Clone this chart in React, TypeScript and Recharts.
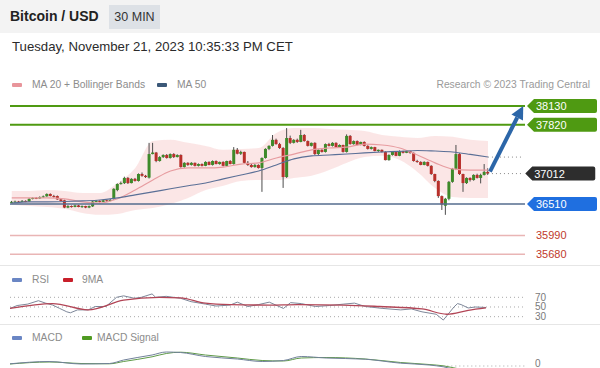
import React from 'react';
import { ComposedChart, Bar, Line, Area, XAxis, YAxis, ReferenceLine } from 'recharts';

const FONT = '"Liberation Sans", Arial, sans-serif';

// open, high, low, close (30 min candles)
const candles: [number, number, number, number][] = [
  [36530, 36560, 36520, 36545], [36545, 36565, 36530, 36550], [36550, 36560, 36530, 36545], [36545, 36575, 36540, 36560],
  [36560, 36570, 36540, 36550], [36550, 36605, 36545, 36595], [36595, 36620, 36585, 36610], [36610, 36625, 36590, 36600],
  [36600, 36635, 36595, 36625], [36625, 36650, 36610, 36635], [36635, 36685, 36630, 36675], [36675, 36685, 36635, 36640],
  [36640, 36660, 36615, 36625], [36640, 36650, 36580, 36585], [36585, 36600, 36555, 36560], [36570, 36580, 36440, 36450],
  [36450, 36490, 36440, 36475], [36475, 36485, 36450, 36460], [36460, 36500, 36455, 36485], [36485, 36495, 36455, 36460],
  [36460, 36485, 36445, 36475], [36475, 36480, 36440, 36450], [36450, 36485, 36440, 36475], [36470, 36560, 36460, 36550],
  [36550, 36575, 36540, 36560], [36560, 36570, 36535, 36545], [36545, 36580, 36540, 36570], [36570, 36580, 36550, 36560],
  [36560, 36590, 36555, 36575], [36590, 36770, 36580, 36760], [36740, 36850, 36720, 36840], [36840, 36880, 36830, 36855],
  [36855, 36960, 36840, 36940], [36940, 36955, 36840, 36855], [36855, 36935, 36850, 36925], [36925, 36940, 36880, 36890],
  [36890, 37015, 36880, 37005], [37005, 37030, 36960, 36975], [36975, 36990, 36940, 36955], [36945, 37520, 36930, 37335],
  [37335, 37520, 37330, 37360], [37360, 37370, 37200, 37220], [37220, 37300, 37210, 37285], [37285, 37330, 37270, 37320],
  [37320, 37335, 37260, 37270], [37270, 37345, 37260, 37335], [37335, 37350, 37270, 37285], [37285, 37330, 37280, 37320],
  [37320, 37330, 37110, 37120], [37120, 37200, 37110, 37190], [37190, 37200, 37140, 37155], [37155, 37200, 37145, 37190],
  [37190, 37195, 37130, 37140], [37140, 37180, 37130, 37170], [37170, 37180, 37130, 37140], [37140, 37215, 37135, 37205],
  [37205, 37215, 37150, 37155], [37155, 37230, 37145, 37220], [37220, 37230, 37165, 37170], [37170, 37210, 37160, 37205],
  [37205, 37215, 37130, 37140], [37140, 37225, 37130, 37220], [37220, 37235, 37165, 37170], [37170, 37450, 37160, 37405],
  [37405, 37435, 37330, 37340], [37340, 37390, 37320, 37370], [37370, 37375, 37180, 37190], [37190, 37220, 37140, 37155],
  [37155, 37170, 37110, 37120], [37120, 37170, 37110, 37155], [37155, 37165, 37095, 37105], [37105, 37280, 36710, 37270],
  [37270, 37430, 37260, 37420], [37420, 37480, 37400, 37470], [37470, 37650, 37460, 37570], [37570, 37590, 37490, 37500],
  [37500, 37520, 37420, 37435], [37435, 37450, 36775, 36955], [36955, 37765, 36940, 37600], [37600, 37640, 37500, 37520],
  [37520, 37580, 37510, 37570], [37570, 37590, 37520, 37535], [37535, 37735, 37530, 37650], [37650, 37665, 37540, 37550],
  [37550, 37560, 37460, 37470], [37470, 37525, 37460, 37520], [37520, 37530, 37320, 37335], [37335, 37410, 37320, 37405],
  [37405, 37415, 37360, 37370], [37370, 37510, 37360, 37500], [37500, 37520, 37460, 37470], [37470, 37530, 37460, 37520],
  [37520, 37530, 37440, 37450], [37450, 37495, 37440, 37485], [37485, 37490, 37360, 37370], [37370, 37660, 37360, 37635],
  [37635, 37650, 37490, 37500], [37500, 37560, 37490, 37550], [37550, 37560, 37480, 37485], [37485, 37540, 37480, 37535],
  [37535, 37545, 37460, 37470], [37470, 37480, 37410, 37420], [37420, 37460, 37410, 37450], [37450, 37455, 37380, 37385],
  [37385, 37410, 37370, 37405], [37405, 37410, 37360, 37370], [37370, 37380, 37230, 37235], [37235, 37330, 37225, 37320],
  [37320, 37380, 37310, 37370], [37370, 37375, 37300, 37305], [37305, 37395, 37300, 37385], [37385, 37390, 37345, 37355],
  [37355, 37395, 37350, 37385], [37385, 37390, 37340, 37355], [37355, 37360, 37210, 37220], [37220, 37240, 37190, 37205],
  [37205, 37215, 37150, 37155], [37155, 37215, 37150, 37205], [37205, 37210, 37130, 37140], [37140, 37150, 36990, 37005],
  [37005, 37010, 36870, 36890], [36890, 36900, 36610, 36640], [36640, 36650, 36410, 36500], [36480, 36610, 36330, 36595],
  [36595, 36890, 36570, 36875], [36875, 37105, 36860, 37090], [37090, 37485, 37070, 37335], [37335, 37350, 36990, 37005],
  [37005, 37010, 36710, 36855], [36855, 36950, 36840, 36940], [36940, 36950, 36880, 36905], [36905, 37000, 36895, 36990],
  [36990, 37010, 36930, 36940], [36940, 37010, 36850, 36990], [36990, 37170, 36980, 37040], [37040, 37100, 36990, 37012],
];

// room on the right of the last candle for the arrow and level tags
const SLOTS = 146;

// indicators read every 5 candles
const STEP = 5;
const bbUpper = [36725, 36725, 36740, 36725, 36690, 36690, 36855, 37105, 37550, 37570, 37520, 37470, 37405, 37420,
  37435, 37685, 37765, 37765, 37750, 37735, 37715, 37650, 37620, 37600, 37635, 37620, 37570, 37550];
const bbLower = [36495, 36475, 36460, 36430, 36360, 36330, 36345, 36410, 36445, 36510, 36610, 36740, 36810, 36890,
  36905, 36905, 36940, 36975, 37070, 37190, 37285, 37305, 37235, 37040, 36775, 36625, 36610, 36610];
const ma20 = [36610, 36610, 36610, 36595, 36545, 36525, 36595, 36740, 36905, 37055, 37105, 37105, 37120, 37170,
  37190, 37270, 37335, 37405, 37435, 37450, 37500, 37485, 37435, 37320, 37190, 37090, 37070, 37070];
const ma50 = [36525, 36545, 36545, 36550, 36560, 36575, 36610, 36660, 36710, 36760, 36810, 36855, 36925, 36990,
  37055, 37155, 37255, 37305, 37320, 37335, 37355, 37370, 37380, 37395, 37385, 37370, 37330, 37285];

const resistances = [38130, 37820];
const support = 36510;
const lowerLevels = [35990, 35680];
const lastPrice = 37012;
const target = 38130;

// RSI and its 9 period average: [candle index, value]
const rsiPoints: [number, number][] = [
  [0, 47], [2, 53], [5, 56], [8, 63], [10, 58], [12, 54], [14, 47], [16, 40], [17, 38], [19, 44], [22, 44], [24, 51],
  [27, 51], [30, 70], [32, 73], [35, 68], [37, 70], [40, 77], [41, 70], [44, 72], [48, 68], [51, 61], [55, 56], [58, 52],
  [62, 54], [64, 60], [67, 51], [70, 55], [73, 60], [77, 47], [79, 59], [82, 57], [86, 51], [90, 53], [94, 56], [97, 58],
  [100, 51], [105, 47], [110, 44], [113, 46], [116, 40], [120, 35], [122, 23], [123, 32], [125, 50], [126, 57], [127, 55],
  [129, 48], [131, 50], [134, 49],
];
const rsiMaPoints: [number, number][] = [
  [0, 47], [12, 57], [22, 44], [32, 64], [42, 70], [48, 69], [55, 58], [62, 55], [73, 54], [81, 55], [94, 54], [104, 51],
  [116, 46], [123, 35], [129, 43], [134, 48],
];
const rsiLevels = [70, 50, 30];

const macdPoints: [number, number][] = [
  [0, 22], [11, 45], [20, 20], [28, 25], [32, 60], [40, 110], [44, 140], [48, 135], [55, 95], [64, 70], [71, 45], [77, 55],
  [82, 95], [89, 80], [100, 68], [110, 28], [118, 10], [122, -8], [128, -60], [135, -75],
];
const signalPoints: [number, number][] = [
  [0, 20], [11, 40], [20, 25], [28, 22], [32, 45], [40, 92], [44, 125], [48, 138], [55, 110], [64, 80], [71, 55], [77, 50],
  [82, 80], [89, 85], [100, 70], [110, 35], [118, 15], [122, 2], [128, -40], [135, -60],
];

const at = (pts: [number, number][], i: number) => {
  const p = pts.find((q) => q[0] === i);
  return p ? p[1] : null;
};

const priceRows = Array.from({ length: SLOTS }, (_, i) => {
  const k = candles[i];
  const s = i % STEP === 0 && i / STEP < bbUpper.length ? i / STEP : -1;
  return {
    i,
    o: k ? k[0] : null,
    h: k ? k[1] : null,
    l: k ? k[2] : null,
    c: k ? k[3] : null,
    range: k ? [k[2], k[1]] : undefined,
    band: s >= 0 ? [bbLower[s], bbUpper[s]] : [null, null],
    ma20: s >= 0 ? ma20[s] : null,
    ma50: s >= 0 ? ma50[s] : null,
  };
});

const rsiRows = Array.from({ length: SLOTS }, (_, i) => ({ i, rsi: at(rsiPoints, i), ma: at(rsiMaPoints, i) }));
const macdRows = Array.from({ length: SLOTS }, (_, i) => ({ i, macd: at(macdPoints, i), signal: at(signalPoints, i) }));

const MARGIN = { top: 0, right: 75, bottom: 0, left: 10 };

const Candle = (props: any) => {
  const { x, y, width, height, payload } = props;
  if (!payload || payload.o == null) return null;
  const { o, h, l, c } = payload;
  const span = h - l || 1;
  const toY = (v: number) => y + ((h - v) / span) * height;
  const up = c >= o;
  const top = toY(Math.max(o, c));
  const bot = toY(Math.min(o, c));
  const cx = x + width / 2;
  return (
    <g>
      <line x1={cx} x2={cx} y1={y} y2={y + height} stroke="#4d4d4d" strokeWidth={1} />
      <rect x={x} y={top} width={width} height={Math.max(1, bot - top)} fill={up ? '#3e8a2a' : '#b8302b'} />
    </g>
  );
};

const tagPath = (t: number, y: number) => `M${t} ${y} L${t + 7} ${y - 7} H${t + 68} Q${t + 70} ${y - 7} ${t + 70} ${y - 5} V${y + 5} Q${t + 70} ${y + 7} ${t + 68} ${y + 7} H${t + 7} Z`;

const levelShape = (value: number, line: string, tag: string | null, text: string, width = 1.5, dash?: string) => (p: any) => {
  const t = p.x2 + 2;
  return (
    <g>
      <line x1={p.x1} y1={p.y1} x2={p.x2} y2={p.y2} stroke={line} strokeWidth={width} strokeDasharray={dash} />
      {tag && <path d={tagPath(t, p.y2)} fill={tag} />}
      <text x={t + 9} y={p.y2 + 4} fontSize={11} fontFamily={FONT} fill={text}>{value}</text>
    </g>
  );
};

const Arrow = (p: any) => {
  const { x1, y1, x2, y2 } = p;
  const a = Math.atan2(y2 - y1, x2 - x1);
  const len = 13;
  const half = 6.5;
  const bx = x2 - len * Math.cos(a);
  const by = y2 - len * Math.sin(a);
  const sx = Math.sin(a);
  const sy = Math.cos(a);
  return (
    <g>
      <line x1={x1 + 2} y1={y1 - 2} x2={bx} y2={by} stroke="#2c66a8" strokeWidth={4} />
      <path d={`M${x2} ${y2} L${bx + half * sx} ${by - half * sy} L${bx - half * sx} ${by + half * sy} Z`} fill="#2c66a8" />
    </g>
  );
};

const dotted = (p: any) => (
  <line x1={p.x1} y1={p.y1} x2={p.x2} y2={p.y2} stroke="#8a8a8a" strokeWidth={1} strokeDasharray="1 3" />
);

const sideLabel = (label: string, dy = 0) => (p: any) => (
  <g>
    <line x1={p.x1} y1={p.y1} x2={p.x2} y2={p.y2} stroke="#a8a8a8" strokeWidth={1} strokeDasharray="1 3" />
    <text x={p.x2 + 10} y={p.y2 + 3.5 + dy} fontSize={10} fontFamily={FONT} fill="#7a7a7a">{label}</text>
  </g>
);

const Swatch = ({ color, left, top }: { color: string; left: number; top: number }) => (
  <div style={{ position: 'absolute', left, top, width: 10, height: 4, borderRadius: 1, background: color }} />
);

const Txt = ({ left, top, right, children, size = 10.3, color = '#8c8c8c', style }: any) => (
  <div style={{ position: 'absolute', left, right, top, fontSize: size, lineHeight: '14px', color, whiteSpace: 'nowrap', ...style }}>{children}</div>
);

export default function App() {
  const lastI = candles.length - 1;
  const endI = SLOTS - 1;
  return (
    <div style={{ position: 'absolute', left: 0, top: 0, width: 600, height: 368, overflow: 'hidden', background: '#fff', fontFamily: FONT }}>
      <div style={{ position: 'absolute', left: 0, top: 0, width: 600, height: 33, background: '#f3f3f3' }} />
      <div style={{ position: 'absolute', left: 10, top: 8, fontSize: 14, lineHeight: '17px', fontWeight: 700, color: '#222' }}>Bitcoin / USD</div>
      <div style={{ position: 'absolute', left: 109, top: 5, width: 51, height: 24, background: '#dde1e6', fontSize: 12.5, lineHeight: '24px', textAlign: 'center', color: '#333' }}>30 MIN</div>
      <Txt left={12} top={39} size={13.2} color="#2b2b2b" style={{ lineHeight: '16px' }}>Tuesday, November 21, 2023 10:35:33 PM CET</Txt>

      <Swatch color="#e8959b" left={12} top={83} />
      <Txt left={32} top={78}>MA 20 + Bollinger Bands</Txt>
      <Swatch color="#3b5878" left={157} top={83} />
      <Txt left={177} top={78}>MA 50</Txt>
      <Txt right={10} top={78} color="#9a9a9a">Research © 2023 Trading Central</Txt>

      <div style={{ position: 'absolute', top: 96, left: 0 }}>
        <ComposedChart width={600} height={166} data={priceRows} margin={MARGIN}>
          <XAxis dataKey="i" type="category" hide />
          <YAxis type="number" domain={[35550, 38295]} hide allowDataOverflow />
          <Area dataKey="band" type="monotone" stroke="none" fill="#f8d2d2" fillOpacity={0.55} connectNulls isAnimationActive={false} />
          <Line dataKey="ma20" type="monotone" stroke="#e79ca0" strokeWidth={1.2} dot={false} connectNulls isAnimationActive={false} />
          <Line dataKey="ma50" type="monotone" stroke="#5a6f96" strokeWidth={1.1} dot={false} connectNulls isAnimationActive={false} />
          {resistances.map((v) => (
            <ReferenceLine key={v} y={v} shape={levelShape(v, '#4f9a12', '#4f9a12', '#fff', 2)} />
          ))}
          <ReferenceLine y={support} shape={levelShape(support, '#556d8e', '#1f6fe0', '#fff', 1.5)} />
          {lowerLevels.map((v) => (
            <ReferenceLine key={v} y={v} shape={levelShape(v, '#e9b5b5', null, '#c0392b', 1.5)} />
          ))}
          <Bar dataKey="range" barSize={3} shape={<Candle />} isAnimationActive={false} />
          <ReferenceLine segment={[{ x: lastI, y: ma50[ma50.length - 1] }, { x: endI, y: ma50[ma50.length - 1] }]} shape={dotted} />
          <ReferenceLine segment={[{ x: lastI, y: lastPrice }, { x: endI, y: lastPrice }]} shape={levelShape(lastPrice, '#8a8a8a', '#2d2d2d', '#fff', 1, '1 3')} />
          <ReferenceLine segment={[{ x: lastI, y: lastPrice }, { x: endI, y: target }]} shape={Arrow} />
        </ComposedChart>
      </div>

      <div style={{ position: 'absolute', left: 0, top: 265, width: 600, height: 1, background: '#e6e6e6' }} />
      <Swatch color="#6a86c4" left={12} top={278} />
      <Txt left={32} top={273}>RSI</Txt>
      <Swatch color="#c81f2a" left={63} top={278} />
      <Txt left={82} top={273}>9MA</Txt>
      <div style={{ position: 'absolute', top: 285, left: 0 }}>
        <ComposedChart width={600} height={37} data={rsiRows} margin={MARGIN}>
          <XAxis dataKey="i" type="category" hide />
          <YAxis type="number" domain={[19, 95.4]} hide allowDataOverflow />
          {rsiLevels.map((v) => (
            <ReferenceLine key={v} y={v} shape={sideLabel(String(v))} />
          ))}
          <Line dataKey="rsi" type="linear" stroke="#7d8799" strokeWidth={1} dot={false} connectNulls isAnimationActive={false} />
          <Line dataKey="ma" type="monotone" stroke="#b24556" strokeWidth={1.3} dot={false} connectNulls isAnimationActive={false} />
        </ComposedChart>
      </div>

      <div style={{ position: 'absolute', left: 0, top: 324, width: 600, height: 1, background: '#e6e6e6' }} />
      <Swatch color="#6a86c4" left={12} top={336} />
      <Txt left={32} top={331}>MACD</Txt>
      <Swatch color="#4f9a22" left={82} top={336} />
      <Txt left={97} top={331}>MACD Signal</Txt>
      <div style={{ position: 'absolute', top: 345, left: 0 }}>
        <ComposedChart width={600} height={50} data={macdRows} margin={MARGIN}>
          <XAxis dataKey="i" type="category" hide />
          <YAxis type="number" domain={[-290, 210]} hide allowDataOverflow />
          <ReferenceLine segment={[{ x: 122, y: 0 }, { x: endI, y: 0 }]} shape={sideLabel('0', -3)} />
          <Line dataKey="signal" type="monotone" stroke="#5f9a48" strokeWidth={1} dot={false} connectNulls isAnimationActive={false} />
          <Line dataKey="macd" type="monotone" stroke="#71809a" strokeWidth={1} dot={false} connectNulls isAnimationActive={false} />
        </ComposedChart>
      </div>
    </div>
  );
}
